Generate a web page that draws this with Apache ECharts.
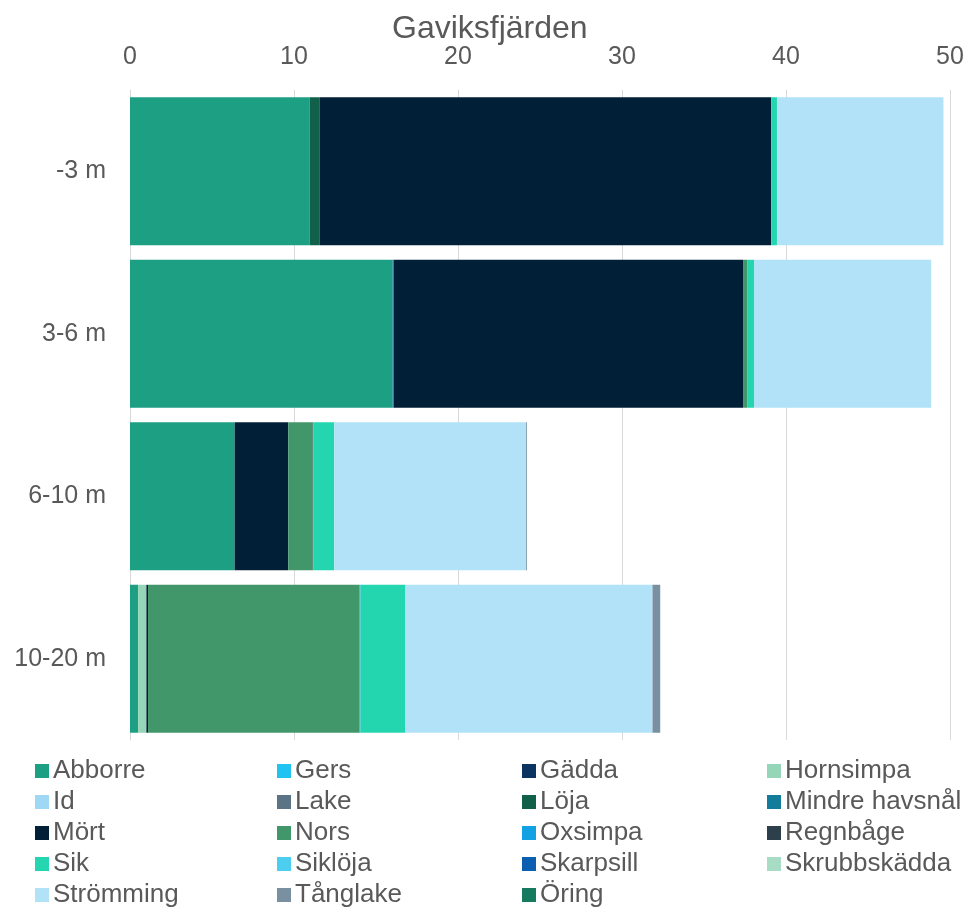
<!DOCTYPE html>
<html>
<head>
<meta charset="utf-8">
<script src="https://cdn.jsdelivr.net/npm/echarts@6/dist/echarts.min.js"></script>
<style>
  html, body { margin: 0; padding: 0; background: #fff; }
  #chart { width: 971px; height: 908px; }
</style>
</head>
<body>
<div id="chart"></div>
<script>
// djupintervall
const categories = ['-3 m', '3-6 m', '6-10 m', '10-20 m'];
const xTicks = [0, 10, 20, 30, 40, 50];

// värden per art
const abborre = [10.95, 16.0, 6.38, 0.5];
const gers = [0, 0, 0, 0];
const gadda = [0, 0, 0, 0];
const hornsimpa = [0, 0, 0, 0.5];
const id = [0, 0, 0, 0];
const lake = [0, 0, 0, 0];
const loja = [0.6, 0, 0, 0];
const mindreHavsnal = [0, 0.08, 0, 0];
const mort = [27.55, 21.3, 3.27, 0.1];
const nors = [0, 0.25, 1.49, 12.9];
const oxsimpa = [0, 0, 0, 0.05];
const regnbage = [0, 0, 0.03, 0];
const sik = [0.35, 0.42, 1.28, 2.75];
const skloja = [0, 0, 0, 0];
const skarpsill = [0, 0, 0, 0];
const skrubbskadda = [0, 0, 0, 0];
const stromming = [10.15, 10.8, 11.7, 15.06];
const tanglake = [0, 0, 0.05, 0.47];
const oring = [0, 0, 0, 0];

const species = [
  ['Abborre', abborre, '#1d9f84'],
  ['Gers', gers, '#21c3f0'],
  ['Gädda', gadda, '#0b3560'],
  ['Hornsimpa', hornsimpa, '#95d5b8'],
  ['Id', id, '#9ed8f5'],
  ['Lake', lake, '#5a7385'],
  ['Löja', loja, '#11614a'],
  ['Mindre havsnål', mindreHavsnal, '#137c9a'],
  ['Mört', mort, '#012038'],
  ['Nors', nors, '#42976a'],
  ['Oxsimpa', oxsimpa, '#12a1e3'],
  ['Regnbåge', regnbage, '#2e3f4c'],
  ['Sik', sik, '#24d6b0'],
  ['Siklöja', skloja, '#4dcdf0'],
  ['Skarpsill', skarpsill, '#0a5fb0'],
  ['Skrubbskädda', skrubbskadda, '#a9dcc5'],
  ['Strömming', stromming, '#b1e2f8'],
  ['Tånglake', tanglake, '#7890a0'],
  ['Öring', oring, '#167a5e']
];

const textColor = '#595959';
const font = 'Liberation Sans, Arial, sans-serif';

const series = species.map(([name, values, color]) => ({
  name: name,
  type: 'bar',
  stack: 'total',
  barCategoryGap: '9%',
  itemStyle: { color: color },
  emphasis: { disabled: true },
  data: values
}));

// legend i fyra kolumner
const columns = [
  ['Abborre', 'Id', 'Mört', 'Sik', 'Strömming'],
  ['Gers', 'Lake', 'Nors', 'Siklöja', 'Tånglake'],
  ['Gädda', 'Löja', 'Oxsimpa', 'Skarpsill', 'Öring'],
  ['Hornsimpa', 'Mindre havsnål', 'Regnbåge', 'Skrubbskädda']
];
const colLeft = [35, 277, 522, 767];
const legends = columns.map((col, i) => ({
  orient: 'vertical',
  left: colLeft[i],
  top: 758,
  data: col,
  itemWidth: 14,
  itemHeight: 14,
  itemGap: 5,
  icon: 'rect',
  selectedMode: false,
  textStyle: { fontSize: 26, color: textColor, fontFamily: font, lineHeight: 26, padding: [0, 0, 0, -1] },
  padding: 0
}));

const chart = echarts.init(document.getElementById('chart'));
chart.setOption({
  animation: false,
  title: {
    text: 'Gaviksfjärden',
    left: 392,
    top: 13,
    padding: 0,
    textStyle: { fontSize: 32, fontWeight: 'normal', color: textColor, fontFamily: font }
  },
  legend: legends,
  grid: { left: 130, right: 21, top: 90, bottom: 168 },
  xAxis: {
    type: 'value',
    position: 'top',
    min: 0,
    max: 50,
    interval: 10,
    axisLine: { show: false },
    axisTick: { show: false },
    axisLabel: { fontSize: 25, color: textColor, fontFamily: font, margin: 20 },
    splitLine: { lineStyle: { color: '#d9d9d9', width: 1 } }
  },
  yAxis: {
    type: 'category',
    inverse: true,
    data: categories,
    axisLine: { lineStyle: { color: '#d9d9d9' } },
    axisTick: { show: false },
    axisLabel: { fontSize: 25, color: textColor, fontFamily: font, margin: 24 }
  },
  series: series
});
</script>
</body>
</html>
